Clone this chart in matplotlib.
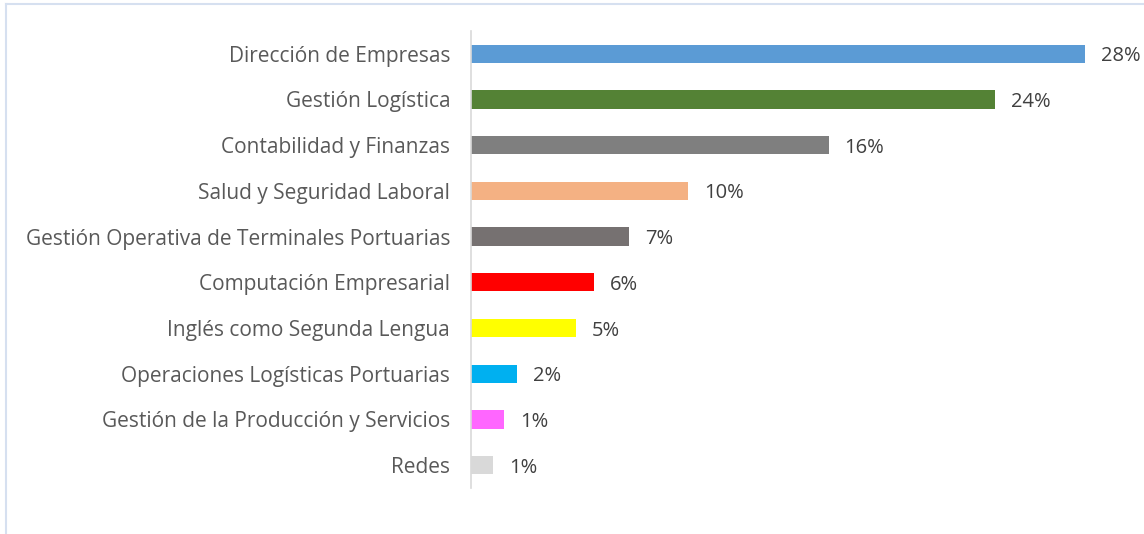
import matplotlib.pyplot as plt
from matplotlib.lines import Line2D

plt.rcParams['font.family'] = ['Open Sans', 'DejaVu Sans']

cursos = ["Dirección de Empresas", "Gestión Logística", "Contabilidad y Finanzas",
          "Salud y Seguridad Laboral", "Gestión Operativa de Terminales Portuarias",
          "Computación Empresarial", "Inglés como Segunda Lengua",
          "Operaciones Logísticas Portuarias", "Gestión de la Producción y Servicios",
          "Redes"]
valores = [28.0, 23.9, 16.3, 9.9, 7.2, 5.6, 4.8, 2.1, 1.5, 1.0]
etiquetas = ["28%", "24%", "16%", "10%", "7%", "6%", "5%", "2%", "1%", "1%"]
colores = ["#5B9BD5", "#548235", "#7F7F7F", "#F4B183", "#767171",
           "#FF0000", "#FFFF00", "#00B0F0", "#FF66FF", "#D9D9D9"]

W, H = 1144, 534
fig = plt.figure(figsize=(W / 100, H / 100), dpi=100)
# marco exterior (solo se ven el borde izquierdo y el superior)
fig.lines.append(Line2D([6 / W, 6 / W], [0, 1 - 4 / H], transform=fig.transFigure,
                        color="#D6E0F0", linewidth=1.5))
fig.lines.append(Line2D([6 / W, 1], [1 - 4 / H, 1 - 4 / H], transform=fig.transFigure,
                        color="#D6E0F0", linewidth=1.5))

ax = fig.add_axes([471 / W, 0.0861, (1129 - 471) / W, 0.856])
y = list(range(len(cursos)))
ax.barh(y, valores, height=0.4, color=colores)
for yi, v, t in zip(y, valores, etiquetas):
    ax.text(v + 0.72, yi, t, va="center_baseline", ha="left", fontsize=14.5,
            color="#404040", clip_on=False)

ax.set_xlim(0, 30)
ax.set_ylim(len(cursos) - 0.5, -0.5)
ax.set_yticks(y)
ax.set_yticklabels(cursos, fontsize=15, color="#595959")
ax.tick_params(axis="y", length=0, pad=15)
ax.set_xticks([])
for s in ["top", "right", "bottom"]:
    ax.spines[s].set_visible(False)
ax.spines["left"].set_color("#D9D9D9")
ax.spines["left"].set_linewidth(1.2)

fig.savefig("out.png", dpi=100)
